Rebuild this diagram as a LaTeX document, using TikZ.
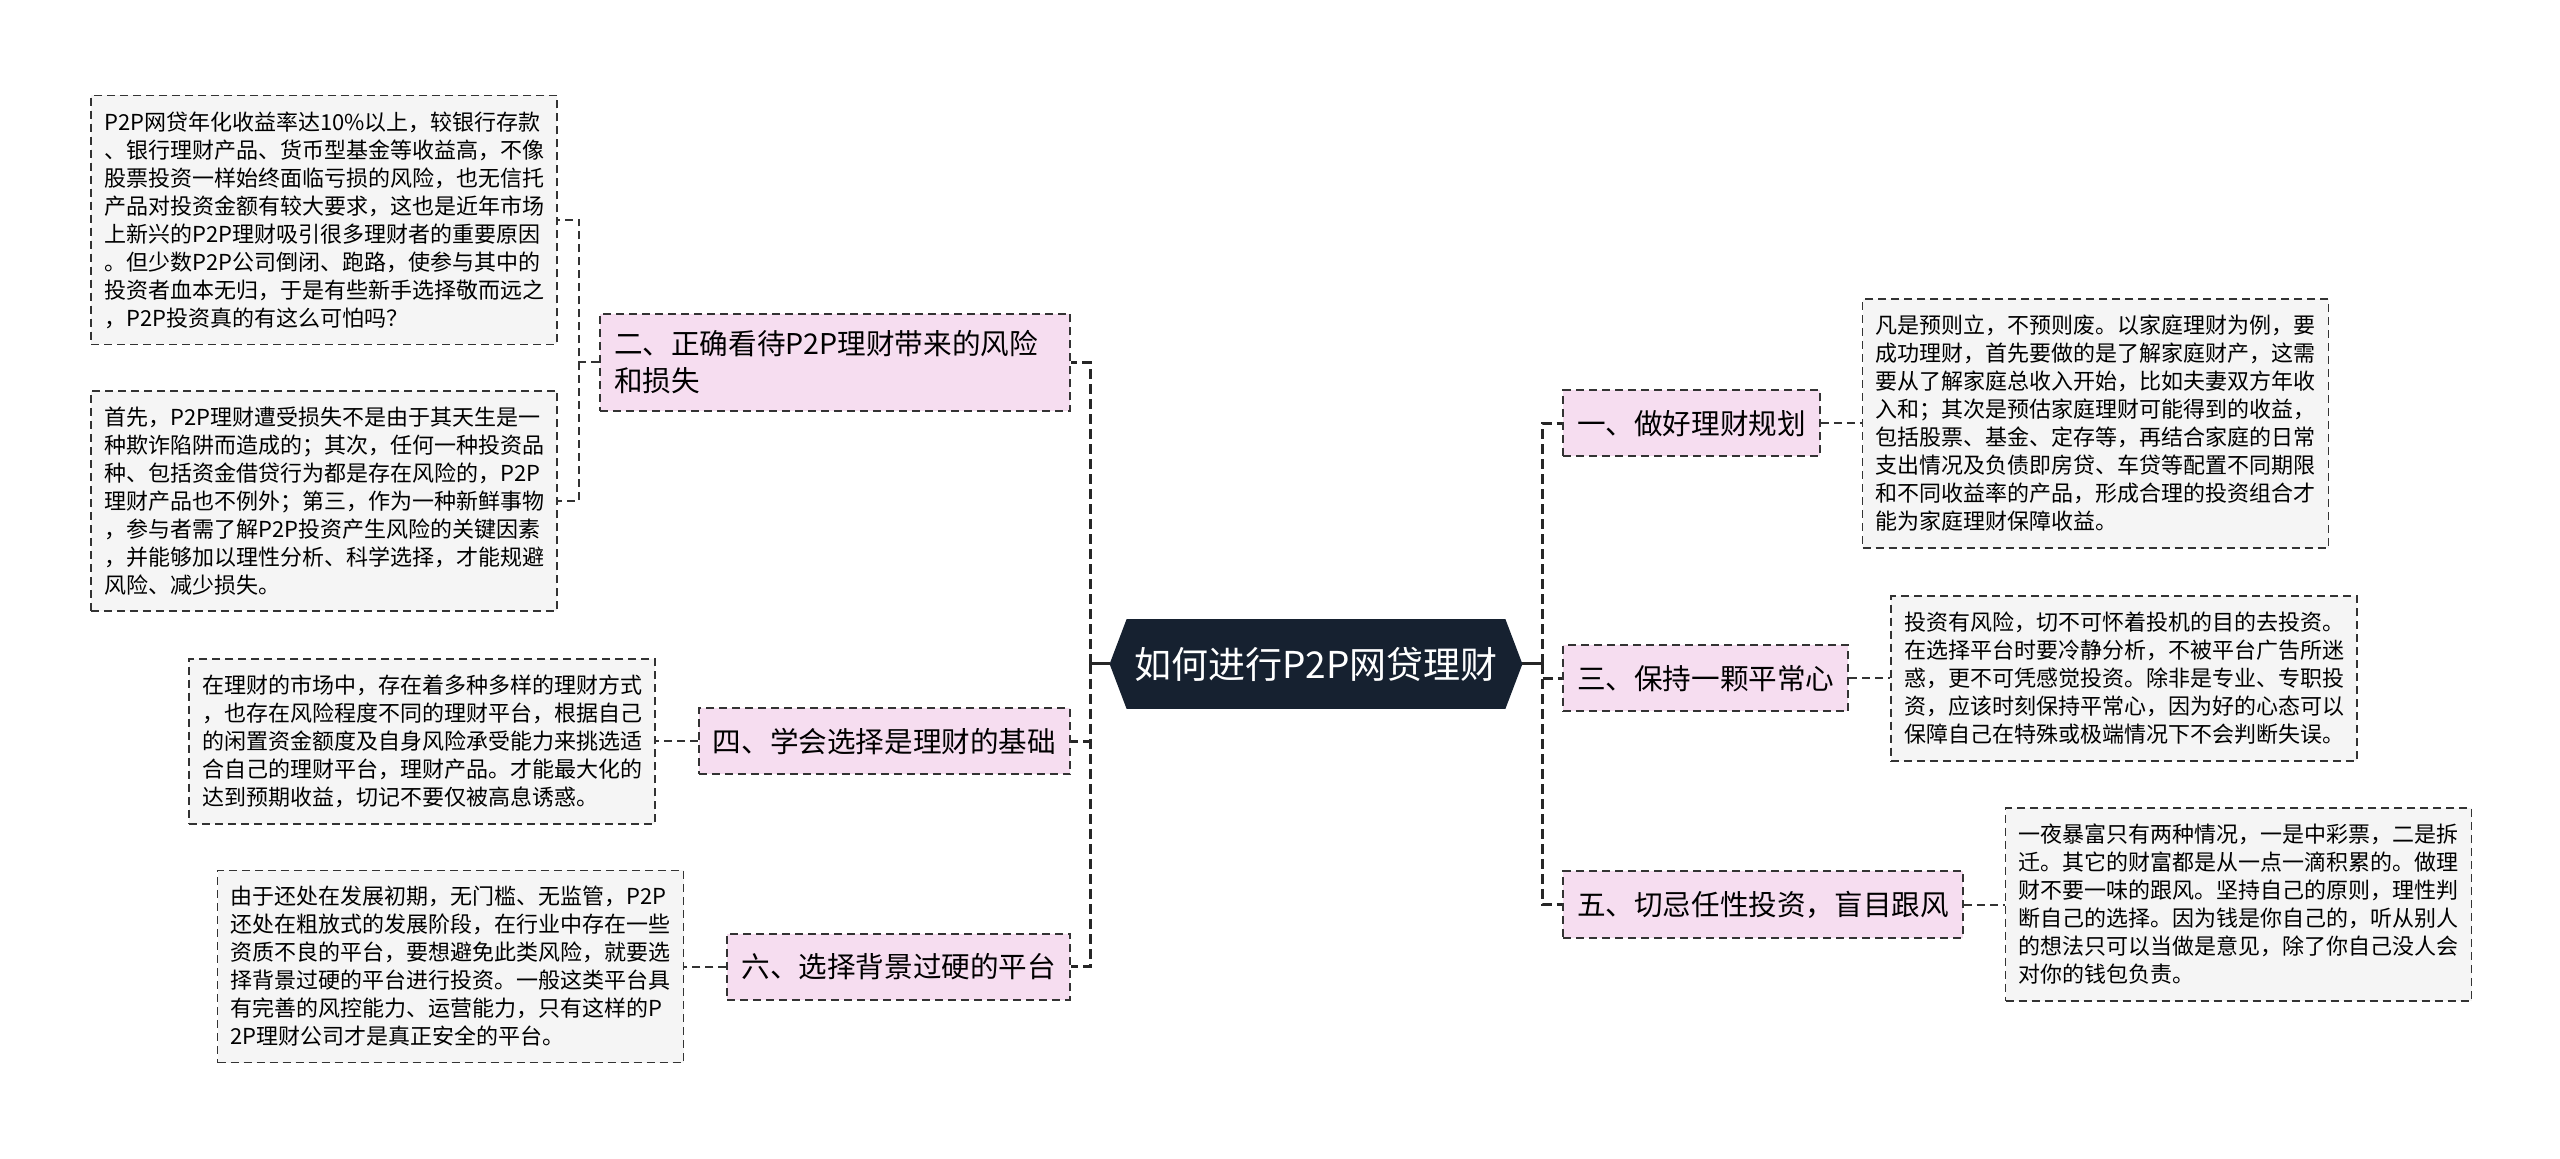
\documentclass[tikz,border=0pt]{standalone}
\usepackage{fontspec}
\setmainfont{Noto Sans CJK SC}
\usepackage{xcolor}
\usetikzlibrary{positioning,backgrounds}
\definecolor{rootfill}{RGB}{22,33,48}
\definecolor{topicfill}{RGB}{246,221,240}
\definecolor{leaffill}{RGB}{245,245,245}
\definecolor{edgegray}{RGB}{51,51,51}
\tikzset{
  topic/.style={
    rectangle,
    draw=edgegray,
    dash pattern=on 4pt off 2.5pt,
    line width=1pt,
    fill=topicfill,
    align=left,
    inner xsep=7pt,
    inner ysep=8.5pt,
    minimum height=33pt,
    font=\fontsize{14.3}{18.5}\selectfont
  },
  leaf/.style={
    rectangle,
    draw=edgegray,
    dash pattern=on 4pt off 2.5pt,
    line width=0.8pt,
    fill=leaffill,
    align=left,
    inner xsep=6.5pt,
    inner ysep=8pt,
    minimum width=232.5pt,
    font=\fontsize{11}{14}\selectfont
  },
  root/.style={
    text=white,
    minimum width=206pt,
    minimum height=44.5pt,
    font=\fontsize{18.5}{22}\selectfont
  },
  stem/.style={line width=1.5pt, draw=black!85},
  branch/.style={line width=1.5pt, draw=black!85, dash pattern=on 5pt off 2.5pt},
  twig/.style={line width=1pt, draw=edgegray, dash pattern=on 4pt off 2.5pt}
}

\begin{document}
\begin{tikzpicture}[x=0.5pt, y=-0.5pt, node distance=20.5pt]
  \useasboundingbox (0,0) rectangle (2560,1159);

  % centre
  \node[root] (root) at (1316,664) {如何进行P2P网贷理财};
  \begin{scope}[on background layer]
    \fill[rootfill] (root.west) -- ([xshift=8.5pt]root.north west)
      -- ([xshift=-8.5pt]root.north east) -- (root.east)
      -- ([xshift=-8.5pt]root.south east) -- ([xshift=8.5pt]root.south west) -- cycle;
  \end{scope}

  % left topics
  \node[topic, anchor=east, text width=221pt] (t2) at (1071,362.5) {二、正确看待P2P理财带来的风险\\和损失};
  \node[topic, anchor=east] (t4) at (1071,741.5) {四、学会选择是理财的基础};
  \node[topic, anchor=east] (t6) at (1071,966.5) {六、选择背景过硬的平台};

  % right topics
  \node[topic, anchor=west] (t1) at (1562,423.5) {一、做好理财规划};
  \node[topic, anchor=west] (t3) at (1562,678.5) {三、保持一颗平常心};
  \node[topic, anchor=west] (t5) at (1562,904.5) {五、切忌任性投资，盲目跟风};

  % leaves
  \node[leaf, anchor=east] (l2a) at (558,220) {P2P网贷年化收益率达10\%以上，较银行存款\\、银行理财产品、货币型基金等收益高，不像\\股票投资一样始终面临亏损的风险，也无信托\\产品对投资金额有较大要求，这也是近年市场\\上新兴的P2P理财吸引很多理财者的重要原因\\。但少数P2P公司倒闭、跑路，使参与其中的\\投资者血本无归，于是有些新手选择敬而远之\\，P2P投资真的有这么可怕吗？};
  \node[leaf, anchor=east] (l2b) at (558,501) {首先，P2P理财遭受损失不是由于其天生是一\\种欺诈陷阱而造成的；其次，任何一种投资品\\种、包括资金借贷行为都是存在风险的，P2P\\理财产品也不例外；第三，作为一种新鲜事物\\，参与者需了解P2P投资产生风险的关键因素\\，并能够加以理性分析、科学选择，才能规避\\风险、减少损失。};
  \node[leaf, left=21pt of t4] (l4) {在理财的市场中，存在着多种多样的理财方式\\，也存在风险程度不同的理财平台，根据自己\\的闲置资金额度及自身风险承受能力来挑选适\\合自己的理财平台，理财产品。才能最大化的\\达到预期收益，切记不要仅被高息诱惑。};
  \node[leaf, left=21pt of t6] (l6) {由于还处在发展初期，无门槛、无监管，P2P\\还处在粗放式的发展阶段，在行业中存在一些\\资质不良的平台，要想避免此类风险，就要选\\择背景过硬的平台进行投资。一般这类平台具\\有完善的风控能力、运营能力，只有这样的P\\2P理财公司才是真正安全的平台。};
  \node[leaf, right=of t1] (l1) {凡是预则立，不预则废。以家庭理财为例，要\\成功理财，首先要做的是了解家庭财产，这需\\要从了解家庭总收入开始，比如夫妻双方年收\\入和；其次是预估家庭理财可能得到的收益，\\包括股票、基金、定存等，再结合家庭的日常\\支出情况及负债即房贷、车贷等配置不同期限\\和不同收益率的产品，形成合理的投资组合才\\能为家庭理财保障收益。};
  \node[leaf, right=of t3] (l3) {投资有风险，切不可怀着投机的目的去投资。\\在选择平台时要冷静分析，不被平台广告所迷\\惑，更不可凭感觉投资。除非是专业、专职投\\资，应该时刻保持平常心，因为好的心态可以\\保障自己在特殊或极端情况下不会判断失误。};
  \node[leaf, right=of t5] (l5) {一夜暴富只有两种情况，一是中彩票，二是拆\\迁。其它的财富都是从一点一滴积累的。做理\\财不要一味的跟风。坚持自己的原则，理性判\\断自己的选择。因为钱是你自己的，听从别人\\的想法只可以当做是意见，除了你自己没人会\\对你的钱包负责。};

  % connectors
  \coordinate (lhub) at (1090,664);
  \coordinate (rhub) at (1542,664);
  \draw[stem] (root.west) -- (lhub);
  \draw[stem] (root.east) -- (rhub);
  \draw[branch] (lhub) |- (t2.east);
  \draw[branch] (lhub) |- (t4.east);
  \draw[branch] (lhub) |- (t6.east);
  \draw[branch] (rhub) |- (t1.west);
  \draw[branch] (rhub) |- (t3.west);
  \draw[branch] (rhub) |- (t5.west);

  \coordinate (split2) at ([xshift=-10pt]t2.west);
  \draw[twig] (t2.west) -- (split2) |- (l2a.east);
  \draw[twig] (split2) |- (l2b.east);
  \draw[twig] (t4.west) -- (l4.east);
  \draw[twig] (t6.west) -- (l6.east);
  \draw[twig] (t1.east) -- (l1.west);
  \draw[twig] (t3.east) -- (l3.west);
  \draw[twig] (t5.east) -- (l5.west);
\end{tikzpicture}
\end{document}
